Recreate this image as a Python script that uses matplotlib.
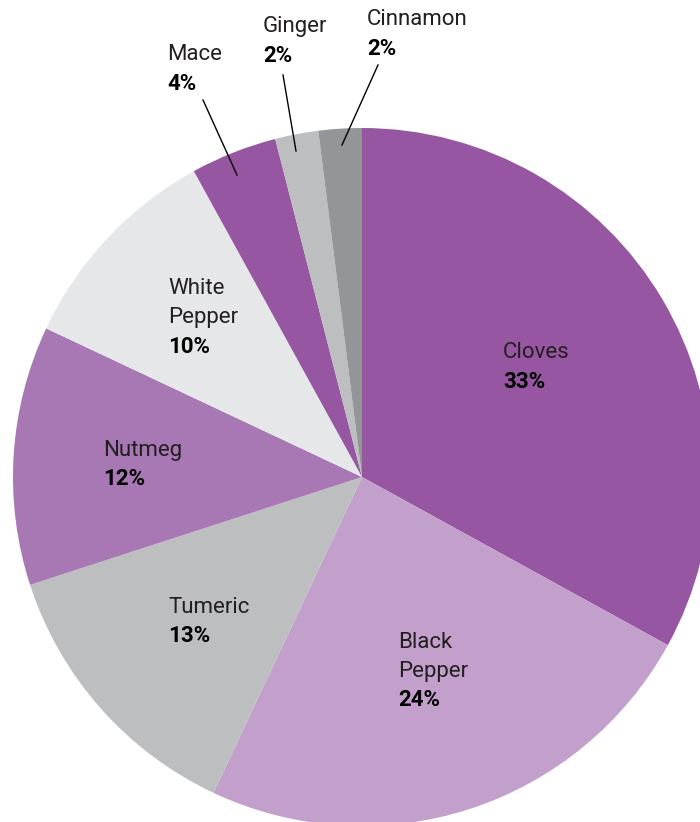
import matplotlib.pyplot as plt

# spice shares, clockwise from 12 o'clock
spices = ["Cloves", "Black\nPepper", "Tumeric", "Nutmeg", "White\nPepper", "Mace", "Ginger", "Cinnamon"]
shares = [33, 24, 13, 12, 10, 4, 2, 2]
colors = ["#9656a2", "#c3a0cb", "#bcbec0", "#a778b3", "#e6e7e8", "#9656a2", "#bcbec0", "#939598"]

# label anchors in pixels (left x, centre y of first line)
label_pos = [(503, 353), (398, 642), (168, 607), (103, 450), (168, 289), (167, 55), (263, 27), (367, 20)]
# leader lines for the small outer slices: (label end, slice end)
leaders = {5: ((203, 100), (237, 175)), 6: ((283, 75), (296, 151)), 7: ((378, 65), (342, 145))}

cx, cy = 362, 477
fig = plt.figure(figsize=(7, 8.22), dpi=100)
ax = fig.add_axes([0, 0, 1, 1])
ax.pie(shares, colors=colors, startangle=90, counterclock=False, radius=349,
       center=(0, 0), frame=True)
ax.set_xlim(-cx, 700 - cx)
ax.set_ylim(-(822 - cy), cy)
ax.set_aspect("equal")
ax.axis("off")

family = ["Roboto", "DejaVu Sans"]
for i, (name, val) in enumerate(zip(spices, shares)):
    px, py = label_pos[i]
    x, y = px - cx, cy - py
    lines = name.split("\n")
    for k, ln in enumerate(lines):
        ax.text(x, y - k * 29, ln, ha="left", va="center", fontsize=16,
                family=family, color="#231f20")
    ax.text(x, y - len(lines) * 29, f"{val}%", ha="left", va="center", fontsize=16,
            family=family, weight="bold", color="#000000")

for (p1, p2) in leaders.values():
    ax.plot([p1[0] - cx, p2[0] - cx], [cy - p1[1], cy - p2[1]], color="#000000", lw=1)

fig.savefig("out.png", dpi=100)
